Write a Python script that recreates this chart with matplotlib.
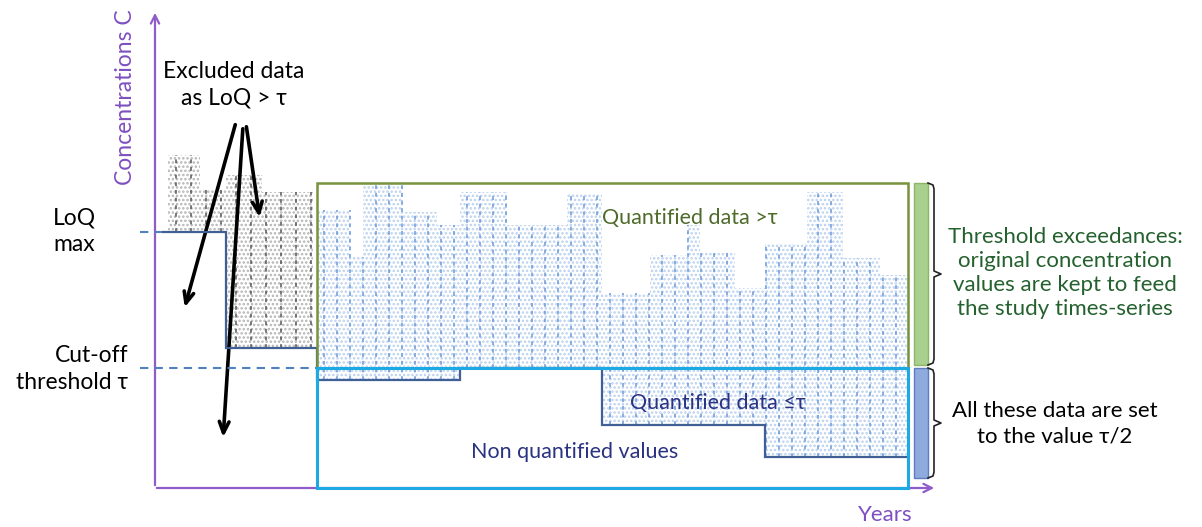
import numpy as np
import matplotlib
matplotlib.use("Agg")
import matplotlib.pyplot as plt
from matplotlib.patches import Rectangle

plt.rcParams['font.family'] = ['Lato', 'DejaVu Sans']
plt.rcParams['hatch.linewidth'] = 1.2

# schematic units: time on x, concentration on y
tau = 120          # cut-off threshold
loq_max = 256      # highest limit of quantification
c_top = 305        # top of the quantified range
t0, t_start, t_end = 155, 317, 908

# limit of quantification over time (step)
loq_edges = [162, 226, 317, 460, 602, 765, 908]
loq_vals = [256, 140, 108, 120, 63, 31]

# excluded data (LoQ > tau)
excl_edges = [168, 200, 226, 262, 313]
excl_tops = [333, 298, 313, 296]

# kept data
data_edges = [317, 350, 363, 403, 437, 460, 507, 567, 602, 650, 687, 700, 735, 765, 807, 843, 880, 908]
data_tops = [278, 231, 305, 276, 263, 296, 263, 295, 195, 233, 263, 236, 200, 245, 296, 230, 213]

purple = '#8F5CC9'
green = '#77933C'
cyan = '#1DAAE2'
navy = '#2A3282'
stepc = '#3F5F95'


def loq_at(x):
    i = np.searchsorted(loq_edges, x, side='right') - 1
    return np.array(loq_vals)[np.clip(i, 0, len(loq_vals) - 1)]


def hatched(ax, edges, tops, dot_col, dash_col, spacing):
    edges = np.array(edges, float)
    left, w = edges[:-1], np.diff(edges)
    bottom = loq_at(left + w / 2)
    ax.bar(left, np.array(tops) - bottom, w, bottom=bottom, align='edge',
           facecolor='white', edgecolor=dot_col, hatch='....', linewidth=0, zorder=2)
    xs = np.arange(edges[0] + spacing / 2, edges[-1], spacing)
    idx = np.clip(np.searchsorted(edges, xs, side='right') - 1, 0, len(tops) - 1)
    ax.vlines(xs, loq_at(xs), np.array(tops)[idx], colors=dash_col,
              linestyles=(0, (2.5, 2.5)), linewidth=1.1, zorder=3)


fig = plt.figure(figsize=(12.02, 5.27), dpi=100)
ax = fig.add_axes([0, 0, 1, 1])
ax.set_xlim(0, 1202)
ax.set_ylim(-39, 488)
ax.axis('off')

hatched(ax, excl_edges, excl_tops, '#B4B4B4', '#555555', 15)
hatched(ax, data_edges, data_tops, '#BBD1EE', '#6A98D8', 13)

# limit of quantification step line
ax.stairs(loq_vals, loq_edges, baseline=None, color=stepc, linewidth=1.6, zorder=4)
ax.plot([140, 162], [loq_max, loq_max], color='#4F81BD', lw=1.5, ls=(0, (4, 3)), zorder=4)
ax.plot([140, t_start], [tau, tau], color='#4F81BD', lw=1.5, ls=(0, (4, 3)), zorder=4)

# boxes
ax.add_patch(Rectangle((t_start, tau), t_end - t_start, c_top - tau, fill=False,
                       edgecolor=green, lw=1.8, zorder=5))
ax.add_patch(Rectangle((t_start, 0), t_end - t_start, tau, fill=False,
                       edgecolor=cyan, lw=2.2, zorder=6))

# axes arrows
ax.annotate('', xy=(t0, 478), xytext=(t0, 0),
            arrowprops=dict(arrowstyle='->,head_length=0.6,head_width=0.3', color=purple, lw=1.6))
ax.annotate('', xy=(937, 0), xytext=(t0 - 1, 0),
            arrowprops=dict(arrowstyle='->,head_length=0.6,head_width=0.3', color=purple, lw=1.6))
ax.text(126, 391, 'Concentrations C', rotation=90, ha='center', va='center',
        color='#7E4FC0', fontsize=16.5)
ax.text(885, -27, 'Years', ha='center', va='center', color='#7E4FC0', fontsize=16)

# left labels
ax.text(53, 257, 'LoQ\nmax', ha='left', va='center', fontsize=16.5, linespacing=1.35)
ax.text(128, 119, 'Cut-off\nthreshold τ', ha='right', va='center', fontsize=16.5,
        linespacing=1.3, multialignment='right')
ax.text(234, 403, 'Excluded data\nas LoQ > τ', ha='center', va='center', fontsize=16.5, linespacing=1.3)

# arrows from the excluded label
arrow_kw = dict(arrowstyle='->,head_length=0.8,head_width=0.35', color='black', lw=2.6)
ax.annotate('', xy=(184, 178), xytext=(236, 366), arrowprops=arrow_kw)
ax.annotate('', xy=(223, 48), xytext=(243, 362), arrowprops=arrow_kw)
ax.annotate('', xy=(260, 268), xytext=(246, 364), arrowprops=arrow_kw)

# in-box labels
ax.text(690, 270, 'Quantified data >τ', ha='center', va='center', color='#4F6B2C', fontsize=15.5)
ax.text(718, 85, 'Quantified data ≤τ', ha='center', va='center', color=navy, fontsize=15.5)
ax.text(575, 36, 'Non quantified values', ha='center', va='center', color=navy, fontsize=15.5)

# right side bars and brackets
ax.add_patch(Rectangle((914, 123), 14, c_top - 123, facecolor='#A9D08E', edgecolor='#8BB665', lw=1))
ax.add_patch(Rectangle((914, 10), 14, 110, facecolor='#8FAADC', edgecolor='#5D7DBF', lw=1))


def bracket(y0, y1):
    ym = (y0 + y1) / 2
    xs = [928, 933, 934, 934, 941, 934, 934, 933, 928]
    ys = [y1, y1 - 2, y1 - 6, ym + 3, ym, ym - 3, y0 + 6, y0 + 2, y0]
    ax.plot(xs, ys, color='#222222', lw=1.2)


bracket(123, c_top)
bracket(10, 120)

ax.text(1065, 215, 'Threshold exceedances:\noriginal concentration\nvalues are kept to feed\nthe study times-series',
        ha='center', va='center', color='#24612E', fontsize=16, linespacing=1.25)
ax.text(1055, 64, 'All these data are set\nto the value τ/2', ha='center', va='center',
        fontsize=16, linespacing=1.35)

fig.savefig('out.png', dpi=100)
